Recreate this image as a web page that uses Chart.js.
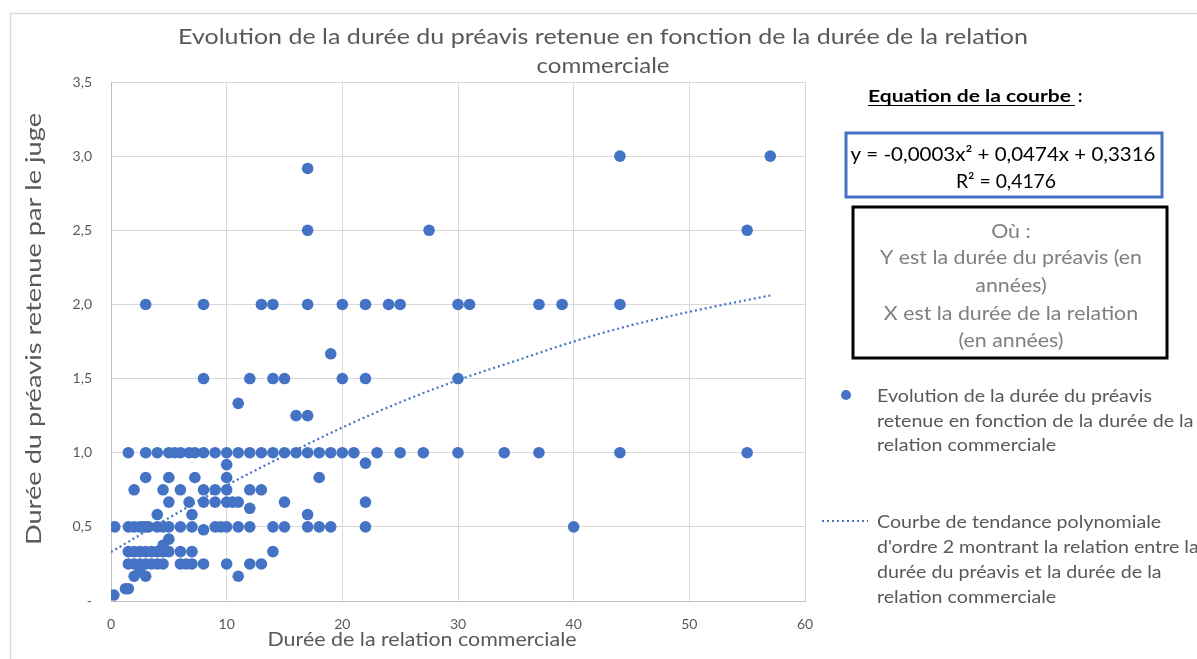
<!DOCTYPE html>
<html>
<head>
<meta charset="utf-8">
<script src="https://cdn.jsdelivr.net/npm/chart.js@4.4.0/dist/chart.umd.min.js"></script>
<style>
  html, body { margin: 0; padding: 0; background: #fff; }
  #wrap { width: 1197px; height: 659px; }
</style>
</head>
<body>
<div id="wrap"><canvas id="graphique" width="1197" height="659"></canvas></div>
<script>
// === DONNEES ===

// durée du préavis retenue (années), une ligne par niveau
const niveauxPreavis = [3.0, 2.917, 2.5, 2.0, 1.667, 1.5, 1.333, 1.25, 1.0, 0.92, 0.93, 0.833,
  0.75, 0.667, 0.625, 0.583, 0.5, 0.48, 0.417, 0.375, 0.333, 0.25, 0.2, 0.167, 0.083, 0.04];

// durées de relation (années) observées pour chaque niveau ci-dessus
const relationsParNiveau = [
  [44, 57],
  [17],
  [17, 27.5, 55],
  [3, 8, 13, 14, 17, 20, 22, 24, 25, 30, 31, 37, 39, 44],
  [19],
  [8, 12, 14, 15, 20, 22, 30],
  [11],
  [16, 17],
  [1.5, 3, 4, 5, 5.5, 6, 6.75, 7.25, 8, 9, 10, 11, 12, 13, 14, 15, 16, 17, 18, 19, 20, 21, 23, 25, 27, 30, 34, 37, 44, 55],
  [10],
  [22],
  [3, 5, 7.25, 10, 18],
  [2, 4.5, 6, 8, 9, 10, 12, 13],
  [5, 6.75, 8, 9, 10, 10.5, 11, 15, 22],
  [12],
  [4, 7, 17],
  [0.33, 1.5, 2, 2.5, 2.75, 3, 3.25, 4, 4.5, 5, 6, 7, 9, 9.5, 10, 11, 12, 14, 15, 17, 18, 19, 22, 40],
  [8],
  [5],
  [4.5],
  [1.5, 2, 2.5, 3, 3.5, 4, 4.5, 5, 6, 7, 14],
  [1.5, 2, 2.5, 3, 3.5, 4, 4.5, 6, 6.5, 7, 8, 10, 12, 13],
  [2.5],
  [2, 3, 11],
  [1.25, 1.5],
  [0.25]
];

// courbe de tendance (pointillés)
const tendanceX = [0, 5, 10, 15, 20, 25, 30, 35, 40, 45, 50, 55, 57];
const tendanceY = [0.33, 0.56, 0.78, 0.98, 1.17, 1.34, 1.49, 1.62, 1.75, 1.86, 1.95, 2.03, 2.06];

const yTickLabels = ["-", "0,5", "1,0", "1,5", "2,0", "2,5", "3,0", "3,5"];

const titreLignes = ["Evolution de la durée du préavis retenue en fonction de la durée de la relation", "commerciale"];
const titreX = "Durée de la relation commerciale";
const titreY = "Durée du préavis retenue par le juge";
const legendeNuage = ["Evolution de la durée du préavis", "retenue en fonction de la durée de la", "relation commerciale"];
const legendeCourbe = ["Courbe de tendance polynomiale", "d'ordre 2 montrant la relation entre la", "durée du préavis et la durée de la", "relation commerciale"];
const encadreLignes = ["Où :", "Y est la durée du préavis (en", "années)", "X est la durée de la relation", "(en années)"];

// --- construit les points du nuage ---
const pointsNuage = [];
niveauxPreavis.forEach((y, i) => {
  relationsParNiveau[i].forEach(x => pointsNuage.push({ x: x, y: y }));
});
const pointsTendance = tendanceX.map((x, i) => ({ x: x, y: tendanceY[i] }));

const BLEU = "#4472C4";
const GRIS = "#595959";
const POLICE = "Lato, 'Open Sans', sans-serif";

// texte avec largeur cible (compression horizontale facon Calibri)
function ecrire(ctx, str, x, y, o) {
  ctx.save();
  ctx.font = (o.weight || "normal") + " " + o.size + "px " + POLICE;
  ctx.fillStyle = o.color || GRIS;
  ctx.textAlign = o.align || "left";
  ctx.textBaseline = "alphabetic";
  let sx = o.scale || 1;
  if (o.width) sx = o.width / ctx.measureText(str).width;
  ctx.translate(x, y);
  if (o.rot) ctx.rotate(o.rot);
  ctx.scale(sx, 1);
  ctx.fillText(str, 0, 0);
  const w = ctx.measureText(str).width * sx;
  ctx.restore();
  return w;
}

function echelle(ctx, str, size, width) {
  ctx.save();
  ctx.font = size + "px " + POLICE;
  const s = width / ctx.measureText(str).width;
  ctx.restore();
  return s;
}

// --- PLUGIN : titres, encadrés et légende ---
const decor = {
  id: "decor",
  afterDraw(chart) {
    const ctx = chart.ctx;

    // cadre gris du graphique
    ctx.save();
    ctx.strokeStyle = "#d9d9d9";
    ctx.lineWidth = 1.5;
    ctx.strokeRect(10.5, 13.5, 1300, 700);
    ctx.restore();

    // titre
    ecrire(ctx, titreLignes[0], 603, 44, { size: 21, align: "center", width: 850 });
    ecrire(ctx, titreLignes[1], 603, 73, { size: 21, align: "center", width: 133 });

    // titres des axes
    ecrire(ctx, titreX, 422, 646, { size: 20, align: "center", width: 309 });
    ecrire(ctx, titreY, 41, 329, { size: 22, align: "center", width: 432, rot: -Math.PI / 2 });

    // equation
    const wH = ecrire(ctx, "Equation de la courbe", 868, 102, { size: 17, weight: "bold", color: "#000", width: 203 });
    ecrire(ctx, ":", 868 + wH + 7, 102, { size: 17, weight: "bold", color: "#000" });
    ctx.save();
    ctx.strokeStyle = "#000";
    ctx.lineWidth = 1.2;
    ctx.beginPath();
    ctx.moveTo(868, 105.5);
    ctx.lineTo(868 + wH + 4, 105.5);
    ctx.stroke();
    ctx.restore();

    ctx.save();
    ctx.strokeStyle = BLEU;
    ctx.lineWidth = 3;
    ctx.strokeRect(846, 133, 316, 64);
    ctx.strokeStyle = "#000";
    ctx.strokeRect(853, 207, 314, 151);
    ctx.restore();

    ecrire(ctx, "y = -0,0003x² + 0,0474x + 0,3316", 1003, 161, { size: 19, align: "center", color: "#000", width: 305 });
    ecrire(ctx, "R² = 0,4176", 1006, 188, { size: 19, align: "center", color: "#000", width: 100 });

    const sE = echelle(ctx, encadreLignes[1], 19, 262);
    const yE = [238, 264, 292, 320, 347];
    encadreLignes.forEach((l, i) => ecrire(ctx, l, 1011, yE[i], { size: 19, align: "center", color: "#7f7f7f", scale: sE }));

    // legende
    const sL = echelle(ctx, legendeNuage[0], 17, 275);
    ctx.save();
    ctx.fillStyle = BLEU;
    ctx.beginPath();
    ctx.arc(846, 395, 5, 0, Math.PI * 2);
    ctx.fill();
    ctx.strokeStyle = BLEU;
    ctx.lineWidth = 2;
    ctx.setLineDash([2, 3]);
    ctx.beginPath();
    ctx.moveTo(822, 521);
    ctx.lineTo(868, 521);
    ctx.stroke();
    ctx.restore();
    const yN = [402, 427, 451];
    legendeNuage.forEach((l, i) => ecrire(ctx, l, 877, yN[i], { size: 17, scale: sL }));
    const yC = [528, 553, 578, 603];
    legendeCourbe.forEach((l, i) => ecrire(ctx, l, 877, yC[i], { size: 17, scale: sL }));
  }
};

// --- SETUP CHART ---
const ctx = document.getElementById("graphique").getContext("2d");

const graphique = new Chart(ctx, {
  type: "scatter",
  data: {
    datasets: [
      {
        type: "line",
        label: "Courbe de tendance",
        data: pointsTendance,
        borderColor: BLEU,
        borderWidth: 2.2,
        borderDash: [2, 3],
        pointRadius: 0,
        cubicInterpolationMode: "monotone",
        fill: false
      },
      {
        label: "Evolution",
        data: pointsNuage,
        backgroundColor: BLEU,
        borderWidth: 0,
        pointRadius: 5.8,
        pointHoverRadius: 5.8
      }
    ]
  },
  options: {
    responsive: false,
    animation: false,
    events: [],
    layout: { padding: { left: 0, right: 392, top: 82, bottom: 0 } },
    scales: {
      x: {
        type: "linear",
        min: 0,
        max: 60,
        ticks: { stepSize: 10, color: GRIS, font: { family: POLICE, size: 14 }, padding: 15 },
        grid: { color: "#d9d9d9", drawTicks: false },
        border: { color: "#bfbfbf" },
        afterFit: s => { s.height = 58; }
      },
      y: {
        min: 0,
        max: 3.5,
        ticks: {
          stepSize: 0.5,
          color: GRIS,
          font: { family: POLICE, size: 14 },
          padding: 19,
          callback: (v, i) => yTickLabels[i]
        },
        grid: { color: "#d9d9d9", drawTicks: false },
        border: { color: "#bfbfbf" },
        afterFit: s => { s.width = 111; }
      }
    },
    plugins: {
      legend: { display: false },
      tooltip: { enabled: false }
    }
  },
  plugins: [decor]
});
</script>
</body>
</html>
